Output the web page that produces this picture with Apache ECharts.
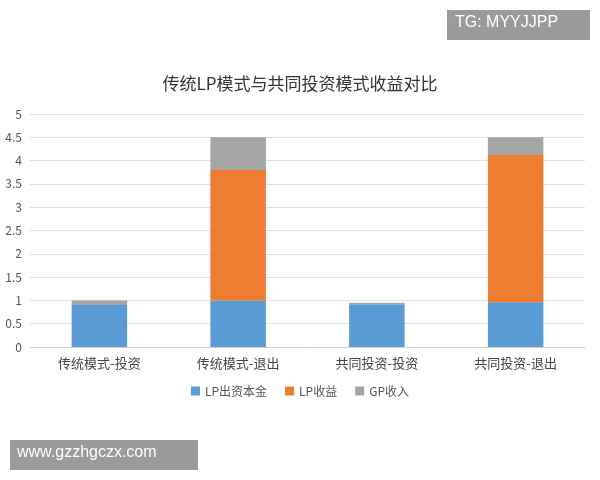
<!DOCTYPE html>
<html><head><meta charset="utf-8">
<script src="https://cdn.jsdelivr.net/npm/echarts@6/dist/echarts.min.js"></script>
<style>html,body{margin:0;padding:0;background:#fff}#c{width:600px;height:480px}</style>
</head><body><div id="c"></div>
<script>
const categories = ['传统模式-投资','传统模式-退出','共同投资-投资','共同投资-退出'];
const lpCapital = [0.9, 1.0, 0.92, 0.96];
const lpIncome = [0, 2.8, 0, 3.16];
const gpIncome = [0.1, 0.7, 0.03, 0.38];
const seriesNames = ['LP出资本金','LP收益','GP收入'];
const font = '"Noto Sans CJK SC", sans-serif';
const chart = echarts.init(document.getElementById('c'));
chart.setOption({
  animation:false,
  textStyle:{fontFamily:font},
  title:{text:'传统LP模式与共同投资模式收益对比',left:'center',top:70,textStyle:{fontSize:17,fontWeight:'normal',color:'#333',fontFamily:font}},
  grid:{left:30,right:15,top:114,bottom:133},
  legend:{bottom:78,itemWidth:9,itemHeight:9,icon:'rect',itemGap:18,textStyle:{fontSize:12,color:'#555'}},
  xAxis:{type:'category',data:categories,axisTick:{show:false},axisLine:{lineStyle:{color:'#d0d0d0'}},axisLabel:{fontSize:13,color:'#444',margin:10}},
  yAxis:{type:'value',min:0,max:5,interval:0.5,axisLabel:{fontSize:12,color:'#555'},splitLine:{lineStyle:{color:'#e0e0e0'}}},
  series:[
    {name:seriesNames[0],type:'bar',stack:'a',barWidth:'40%',data:lpCapital,itemStyle:{color:'#5b9bd5'}},
    {name:seriesNames[1],type:'bar',stack:'a',data:lpIncome,itemStyle:{color:'#ed7d31'}},
    {name:seriesNames[2],type:'bar',stack:'a',data:gpIncome,itemStyle:{color:'#a5a5a5'}}
  ],
  graphic:[
    {type:'rect',shape:{x:447,y:10,width:143,height:30},style:{fill:'#9a9a9a'}},
    {type:'text',left:455,top:15,style:{text:'TG: MYYJJPP',fill:'#fff',font:'16px "Liberation Sans", sans-serif'}},
    {type:'rect',shape:{x:10,y:440,width:188,height:30},style:{fill:'#9a9a9a'}},
    {type:'text',left:17,top:445,style:{text:'www.gzzhgczx.com',fill:'#fff',font:'16px "Liberation Sans", sans-serif'}}
  ]
});
</script></body></html>
